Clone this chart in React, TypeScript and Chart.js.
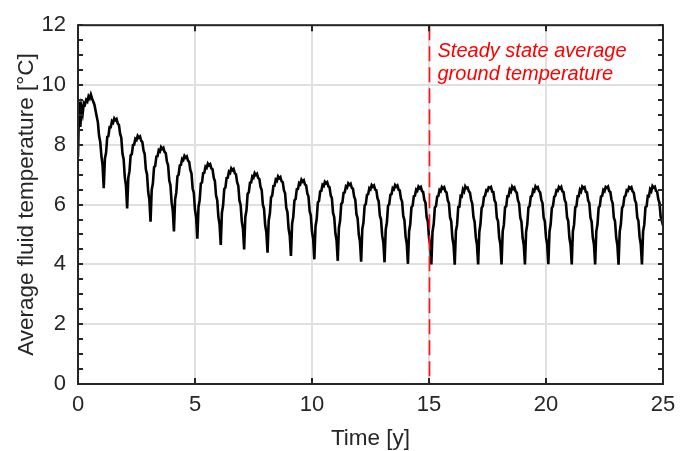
import React, { useEffect, useRef } from "react";
import { Chart, registerables } from "chart.js";

Chart.register(...registerables);

// time step between samples, in years
const TIME_STEP = 0.05;

// Average fluid temperature [°C], 20 samples per year
const tempYears00to04 = [
  7.60, 9.45, 8.60, 9.25, 9.05, 9.40, 9.35, 9.50, 9.45, 9.62, 9.55, 9.68, 9.55, 9.45, 9.35, 9.15, 8.95, 8.75, 8.30, 8.10,
  7.63, 7.32, 6.55, 7.54, 7.74, 8.26, 8.29, 8.59, 8.59, 8.79, 8.74, 8.88, 8.82, 8.86, 8.71, 8.66, 8.37, 8.24, 7.71, 7.52,
  6.92, 6.63, 5.87, 6.90, 7.11, 7.65, 7.69, 7.99, 8.00, 8.20, 8.16, 8.30, 8.24, 8.28, 8.14, 8.09, 7.81, 7.69, 7.18, 7.01,
  6.43, 6.16, 5.43, 6.49, 6.71, 7.25, 7.29, 7.61, 7.62, 7.82, 7.78, 7.92, 7.86, 7.90, 7.76, 7.72, 7.44, 7.32, 6.81, 6.65,
  6.08, 5.81, 5.10, 6.17, 6.40, 6.95, 7.00, 7.31, 7.33, 7.53, 7.49, 7.63, 7.57, 7.61, 7.47, 7.43, 7.16, 7.04, 6.54, 6.39,
];
const tempYears05to09 = [
  5.82, 5.56, 4.86, 5.92, 6.15, 6.70, 6.74, 7.05, 7.07, 7.27, 7.23, 7.37, 7.31, 7.35, 7.21, 7.18, 6.90, 6.79, 6.30, 6.15,
  5.59, 5.34, 4.65, 5.73, 5.97, 6.52, 6.57, 6.89, 6.90, 7.10, 7.06, 7.21, 7.15, 7.19, 7.05, 7.02, 6.75, 6.63, 6.14, 5.99,
  5.44, 5.19, 4.50, 5.58, 5.81, 6.36, 6.41, 6.73, 6.74, 6.94, 6.90, 7.05, 6.99, 7.03, 6.89, 6.86, 6.59, 6.49, 6.00, 5.86,
  5.31, 5.07, 4.39, 5.47, 5.70, 6.25, 6.30, 6.62, 6.63, 6.83, 6.79, 6.94, 6.88, 6.92, 6.78, 6.75, 6.48, 6.38, 5.89, 5.75,
  5.20, 4.96, 4.28, 5.36, 5.59, 6.14, 6.19, 6.51, 6.52, 6.72, 6.68, 6.83, 6.77, 6.81, 6.67, 6.64, 6.37, 6.27, 5.78, 5.64,
];
const tempYears10to14 = [
  5.09, 4.85, 4.17, 5.27, 5.51, 6.07, 6.12, 6.44, 6.46, 6.66, 6.62, 6.76, 6.71, 6.75, 6.61, 6.58, 6.31, 6.21, 5.72, 5.58,
  5.04, 4.80, 4.12, 5.22, 5.46, 6.02, 6.07, 6.39, 6.41, 6.61, 6.57, 6.71, 6.66, 6.70, 6.56, 6.53, 6.27, 6.16, 5.68, 5.54,
  5.00, 4.76, 4.09, 5.18, 5.41, 5.97, 6.02, 6.33, 6.35, 6.55, 6.51, 6.65, 6.60, 6.64, 6.50, 6.48, 6.21, 6.11, 5.63, 5.50,
  4.96, 4.73, 4.07, 5.16, 5.40, 5.96, 6.01, 6.33, 6.35, 6.55, 6.51, 6.65, 6.60, 6.64, 6.50, 6.47, 6.21, 6.10, 5.62, 5.48,
  4.93, 4.69, 4.02, 5.11, 5.35, 5.91, 5.96, 6.28, 6.30, 6.50, 6.46, 6.60, 6.55, 6.59, 6.45, 6.42, 6.16, 6.06, 5.58, 5.44,
];
const tempYears15to19 = [
  4.90, 4.67, 4.00, 5.10, 5.34, 5.90, 5.95, 6.27, 6.29, 6.49, 6.45, 6.59, 6.54, 6.58, 6.44, 6.41, 6.15, 6.05, 5.57, 5.44,
  4.88, 4.65, 3.99, 5.12, 5.32, 5.92, 5.93, 6.29, 6.27, 6.51, 6.44, 6.61, 6.55, 6.57, 6.45, 6.40, 6.16, 6.03, 5.58, 5.42,
  4.91, 4.66, 4.00, 5.08, 5.35, 5.89, 5.96, 6.26, 6.30, 6.48, 6.46, 6.58, 6.56, 6.59, 6.43, 6.42, 6.14, 6.06, 5.55, 5.45,
  4.89, 4.68, 4.00, 5.11, 5.33, 5.91, 5.94, 6.28, 6.28, 6.50, 6.44, 6.60, 6.53, 6.57, 6.44, 6.40, 6.15, 6.04, 5.57, 5.43,
  4.90, 4.66, 4.00, 5.09, 5.34, 5.90, 5.95, 6.27, 6.29, 6.49, 6.45, 6.61, 6.55, 6.58, 6.45, 6.41, 6.16, 6.05, 5.56, 5.44,
];
const tempYears20to24 = [
  4.91, 4.67, 4.01, 5.10, 5.35, 5.89, 5.96, 6.26, 6.30, 6.48, 6.46, 6.59, 6.54, 6.59, 6.44, 6.42, 6.15, 6.06, 5.58, 5.45,
  4.89, 4.66, 4.00, 5.11, 5.33, 5.91, 5.94, 6.28, 6.28, 6.50, 6.44, 6.60, 6.55, 6.58, 6.43, 6.41, 6.14, 6.05, 5.57, 5.43,
  4.90, 4.67, 4.00, 5.10, 5.34, 5.90, 5.95, 6.27, 6.29, 6.49, 6.45, 6.59, 6.56, 6.60, 6.45, 6.42, 6.16, 6.04, 5.56, 5.44,
  4.90, 4.65, 3.99, 5.09, 5.35, 5.89, 5.96, 6.26, 6.30, 6.48, 6.46, 6.58, 6.54, 6.58, 6.44, 6.40, 6.15, 6.05, 5.57, 5.45,
  4.91, 4.67, 4.00, 5.11, 5.33, 5.91, 5.94, 6.29, 6.28, 6.51, 6.45, 6.62, 6.57, 6.60, 6.46, 6.43, 6.17, 6.06, 5.59, 5.46,
];
const tempYear25 = [5.30];

const X_MIN = 0;
const X_MAX = 25;
const X_TICK_STEP = 5;
const Y_MIN = 0;
const Y_MAX = 12;
const Y_TICK_STEP = 2;
const Y_MINOR_STEP = 0.5;

const STEADY_STATE_TIME = 15;
const ANNOTATION_LINES = ["Steady state average", "ground temperature"];
const X_TITLE = "Time [y]";
const Y_TITLE = "Average fluid temperature [°C]";

const FONT = '"Liberation Sans", Arial, Helvetica, sans-serif';
const AXIS_COLOR = "#262626";

export default function App() {
  const canvasRef = useRef<HTMLCanvasElement | null>(null);

  useEffect(() => {
    const canvas = canvasRef.current;
    if (!canvas) return;

    const allTemps = [
      ...tempYears00to04,
      ...tempYears05to09,
      ...tempYears10to14,
      ...tempYears15to19,
      ...tempYears20to24,
      ...tempYear25,
    ];
    const points = allTemps.map((v, i) => ({ x: +(i * TIME_STEP).toFixed(3), y: v }));

    const framePlugin = {
      id: "frame",
      afterDatasetsDraw(chart: any) {
        const { ctx, chartArea: a, scales } = chart;
        const xs = scales.x;
        // red dashed steady-state marker
        const xr = Math.round(xs.getPixelForValue(STEADY_STATE_TIME)) + 0.5;
        ctx.save();
        ctx.strokeStyle = "rgb(255,20,20)";
        ctx.lineWidth = 1.7;
        ctx.setLineDash([15, 6]);
        ctx.beginPath();
        ctx.moveTo(xr, a.top);
        ctx.lineTo(xr, a.bottom);
        ctx.stroke();
        ctx.setLineDash([]);
        // annotation text
        ctx.fillStyle = "rgb(255,0,0)";
        ctx.font = `italic 20px ${FONT}`;
        ctx.textAlign = "left";
        ctx.textBaseline = "alphabetic";
        ANNOTATION_LINES.forEach((line, i) => {
          ctx.fillText(line, xr + 8, a.top + 32 + i * 22.5);
        });
        ctx.restore();
      },
      afterDraw(chart: any) {
        const { ctx, chartArea: a, scales } = chart;
        const xs = scales.x;
        const ys = scales.y;
        ctx.save();
        ctx.strokeStyle = AXIS_COLOR;
        ctx.lineWidth = 2;
        // y minor/major ticks, left and right, pointing inward
        for (let v = Y_MIN; v <= Y_MAX + 1e-9; v += Y_MINOR_STEP) {
          const y = Math.round(ys.getPixelForValue(v));
          ctx.beginPath();
          ctx.moveTo(a.left, y);
          ctx.lineTo(a.left + 5, y);
          ctx.moveTo(a.right, y);
          ctx.lineTo(a.right - 5, y);
          ctx.stroke();
        }
        // x ticks, bottom and top, pointing inward
        for (let v = X_MIN; v <= X_MAX + 1e-9; v += X_TICK_STEP) {
          const x = Math.round(xs.getPixelForValue(v));
          ctx.beginPath();
          ctx.moveTo(x, a.bottom);
          ctx.lineTo(x, a.bottom - 6);
          ctx.moveTo(x, a.top);
          ctx.lineTo(x, a.top + 6);
          ctx.stroke();
        }
        // box
        ctx.strokeRect(a.left, a.top, a.right - a.left, a.bottom - a.top);

        // axis titles
        ctx.fillStyle = AXIS_COLOR;
        ctx.font = `22.5px ${FONT}`;
        ctx.textAlign = "center";
        ctx.textBaseline = "middle";
        ctx.fillText(X_TITLE, (a.left + a.right) / 2, 439);
        ctx.translate(27, (a.top + a.bottom) / 2);
        ctx.rotate(-Math.PI / 2);
        ctx.fillText(Y_TITLE, 0, 0);
        ctx.restore();
      },
    };

    const chart = new Chart(canvas, {
      type: "line",
      data: {
        datasets: [
          {
            data: points,
            borderColor: "#000000",
            borderWidth: 2.6,
            borderJoinStyle: "miter",
            pointRadius: 0,
            tension: 0,
            fill: false,
          },
        ],
      },
      options: {
        animation: false,
        responsive: false,
        devicePixelRatio: 1,
        layout: { padding: { top: 18, right: 21, left: 0, bottom: 0 } },
        plugins: {
          legend: { display: false },
          tooltip: { enabled: false },
        },
        scales: {
          x: {
            type: "linear",
            min: X_MIN,
            max: X_MAX,
            border: { display: false },
            grid: { color: "#e0e0e0", lineWidth: 2, drawTicks: false },
            ticks: {
              stepSize: X_TICK_STEP,
              color: AXIS_COLOR,
              font: { family: FONT, size: 22 },
              padding: 8,
              maxRotation: 0,
            },
            afterFit: (scale: any) => {
              scale.height = 67;
            },
          },
          y: {
            type: "linear",
            min: Y_MIN,
            max: Y_MAX,
            border: { display: false },
            grid: { color: "#e0e0e0", lineWidth: 2, drawTicks: false },
            ticks: {
              stepSize: Y_TICK_STEP,
              color: AXIS_COLOR,
              font: { family: FONT, size: 22 },
              padding: 12,
            },
            afterFit: (scale: any) => {
              scale.width = 78;
            },
          },
        },
      },
      plugins: [framePlugin],
    });

    return () => {
      chart.destroy();
    };
  }, []);

  return (
    <div style={{ position: "absolute", left: 0, top: 0, width: 684, height: 451, background: "#ffffff" }}>
      <canvas ref={canvasRef} width={684} height={451} style={{ display: "block" }} />
    </div>
  );
}
